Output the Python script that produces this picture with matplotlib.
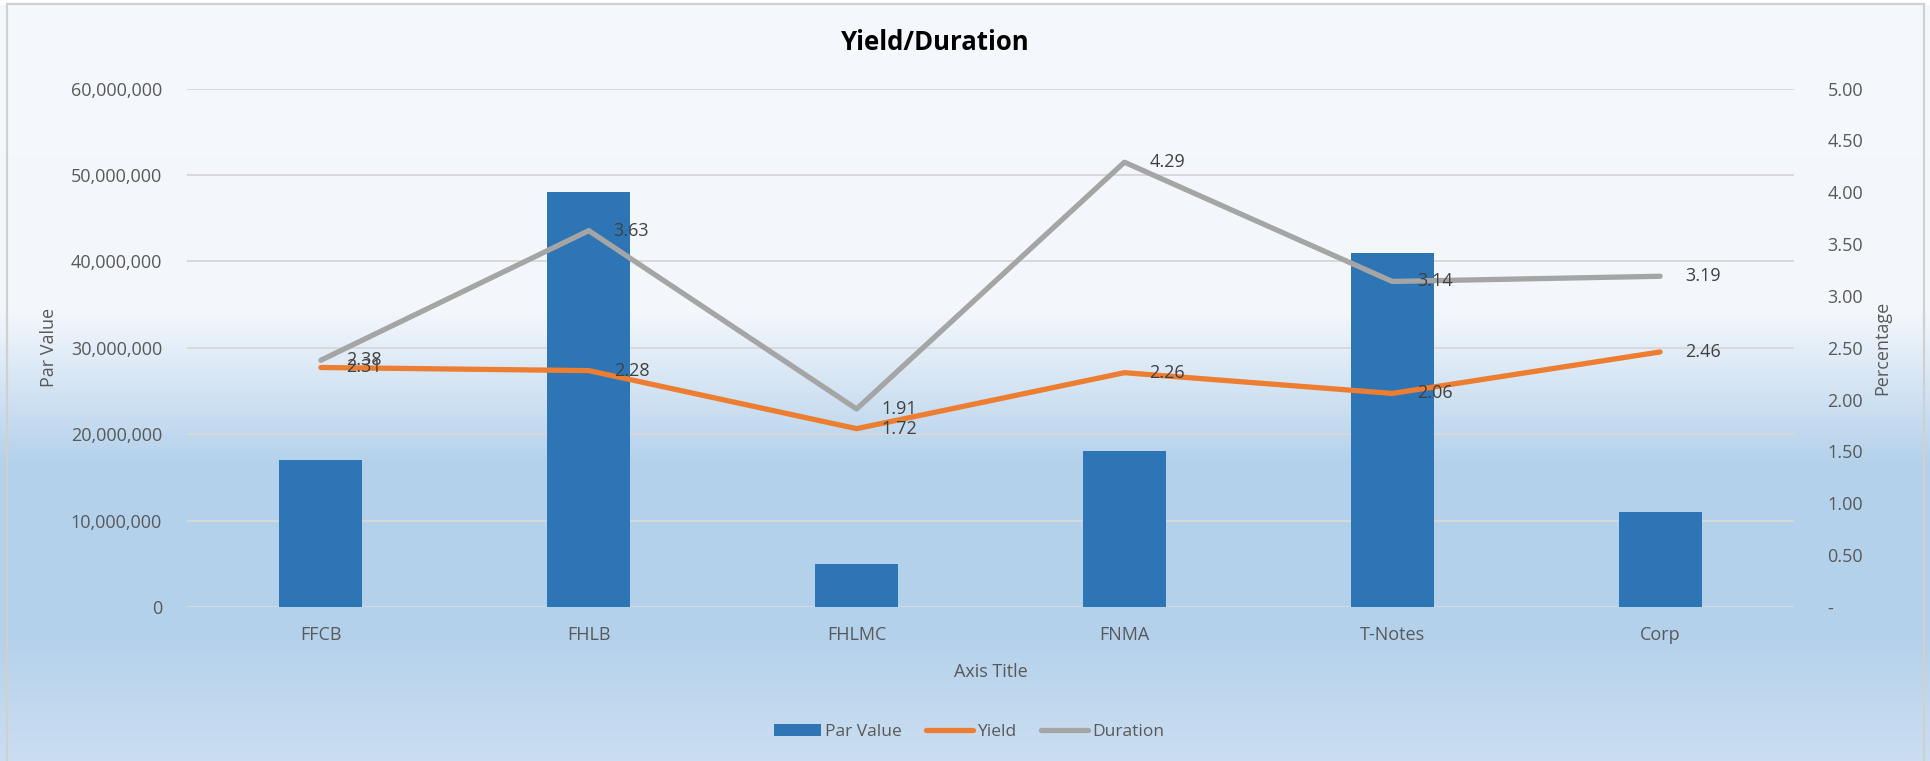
import numpy as np
import matplotlib
matplotlib.use("Agg")
import matplotlib.pyplot as plt
from matplotlib.ticker import FuncFormatter, MultipleLocator
from matplotlib.patches import Rectangle
from matplotlib.lines import Line2D
from matplotlib.patches import Patch
from matplotlib.colors import to_rgb

categories = ["FFCB", "FHLB", "FHLMC", "FNMA", "T-Notes", "Corp"]
par_value = [17000000, 48000000, 5000000, 18000000, 41000000, 11000000]
yield_pct = [2.31, 2.28, 1.72, 2.26, 2.06, 2.46]
duration = [2.38, 3.63, 1.91, 4.29, 3.14, 3.19]

plt.rcParams['font.family'] = ['Open Sans', 'DejaVu Sans']

W, H = 1930, 761
fig = plt.figure(figsize=(W / 100, H / 100), dpi=100)

# background gradient
bg = fig.add_axes([0, 0, 1, 1], zorder=-10)
ys = np.linspace(0, 1, H)
stops = [0.0, 0.41, 0.61, 0.835, 1.0]
cols = [to_rgb("#F5F9FD"), to_rgb("#F3F7FC"), to_rgb("#B4D1EB"), to_rgb("#B4D1EB"), to_rgb("#CBDEF1")]
img = np.zeros((H, 1, 3))
for c in range(3):
    img[:, 0, c] = np.interp(ys, stops, [col[c] for col in cols])
bg.imshow(img, aspect='auto', extent=[0, 1, 0, 1], origin='upper')
bg.add_patch(Rectangle((0, 1 - 3.5 / H), 1, 3.5 / H, color='white', transform=bg.transAxes))
bg.add_patch(Rectangle((6.5 / W, -0.01), (1923.5 - 6.5) / W, 1 - 3.5 / H + 0.01, fill=False,
                       edgecolor='#D0D0D0', linewidth=1.6, transform=bg.transAxes))
bg.set_xlim(0, 1); bg.set_ylim(0, 1)
bg.axis('off')

left_px, right_px = 187, 1794
top_px, bottom_px = 88.6, 607
left, right = left_px / W, right_px / W
bottom, top = 1 - bottom_px / H, 1 - top_px / H
ax = fig.add_axes([left, bottom, right - left, top - bottom])
ax.patch.set_visible(False)
x = np.arange(len(categories))
ax.bar(x, par_value, width=0.31, color="#2E75B6", zorder=2)
ax.set_xlim(-0.5, len(categories) - 0.5)
ax.set_ylim(0, 60000000)
ax.yaxis.set_major_locator(MultipleLocator(10000000))
ax.yaxis.set_major_formatter(FuncFormatter(lambda v, p: f"{v:,.0f}"))
ax.set_axisbelow(True)
ax.grid(axis='y', color='#D9D9D9', linewidth=1.4)
ax.set_xticks(x)
ax.set_xticklabels(categories)
for s in ax.spines.values():
    s.set_visible(False)
FS = 13
ax.tick_params(axis='both', length=0, labelsize=FS, labelcolor='#595959')
ax.tick_params(axis='y', pad=18)
ax.tick_params(axis='x', pad=14)
aw = right_px - left_px
ah = bottom_px - top_px
ax.set_ylabel("Par Value", fontsize=FS, color='#595959', va='center', ha='center')
ax.yaxis.set_label_coords((49 - left_px) / aw, 0.5)
ax.set_xlabel("Axis Title", fontsize=FS, color='#595959', va='center', ha='center')
ax.xaxis.set_label_coords(0.5, -(672 - bottom_px) / ah)

ax2 = ax.twinx()
ax2.patch.set_visible(False)
ax2.plot(x, yield_pct, color="#ED7D31", linewidth=3.8, solid_capstyle='round', zorder=3)
ax2.plot(x, duration, color="#A5A5A5", linewidth=3.8, solid_capstyle='round', zorder=3)
ax2.set_ylim(0, 5)
ax2.yaxis.set_major_locator(MultipleLocator(0.5))
ax2.yaxis.set_major_formatter(FuncFormatter(lambda v, p: "-" if abs(v) < 1e-9 else f"{v:.2f}"))
for s in ax2.spines.values():
    s.set_visible(False)
ax2.tick_params(axis='both', length=0, labelsize=FS, labelcolor='#595959')
ax2.tick_params(axis='y', pad=24)
ax2.set_ylabel("Percentage", fontsize=FS, color='#595959', va='center', ha='center')
ax2.yaxis.set_label_coords((1882 - left_px) / aw, 0.5)

for xi, v in zip(x, duration):
    ax2.annotate(f"{v:.2f}", (xi, v), xytext=(18, 0), textcoords='offset points',
                 ha='left', va='center', fontsize=FS, color='#404040', zorder=5)
for xi, v in zip(x, yield_pct):
    ax2.annotate(f"{v:.2f}", (xi, v), xytext=(18, 0), textcoords='offset points',
                 ha='left', va='center', fontsize=FS, color='#404040', zorder=5)

fig.text(935 / W, 1 - 43 / H, "Yield/Duration", ha='center', va='center',
         fontsize=18.5, fontweight='bold', color='black')

handles = [Patch(facecolor="#2E75B6"),
           Line2D([0], [0], color="#ED7D31", linewidth=3.8, solid_capstyle='round'),
           Line2D([0], [0], color="#A5A5A5", linewidth=3.8, solid_capstyle='round')]
leg = fig.legend(handles, ["Par Value", "Yield", "Duration"], loc='center',
                 bbox_to_anchor=(969 / W, 1 - 732 / H), ncol=3, frameon=False,
                 fontsize=12.5, handlelength=2.7, handletextpad=0.25, columnspacing=1.4)
for t in leg.get_texts():
    t.set_color('#595959')

fig.savefig("out.png", dpi=100)
